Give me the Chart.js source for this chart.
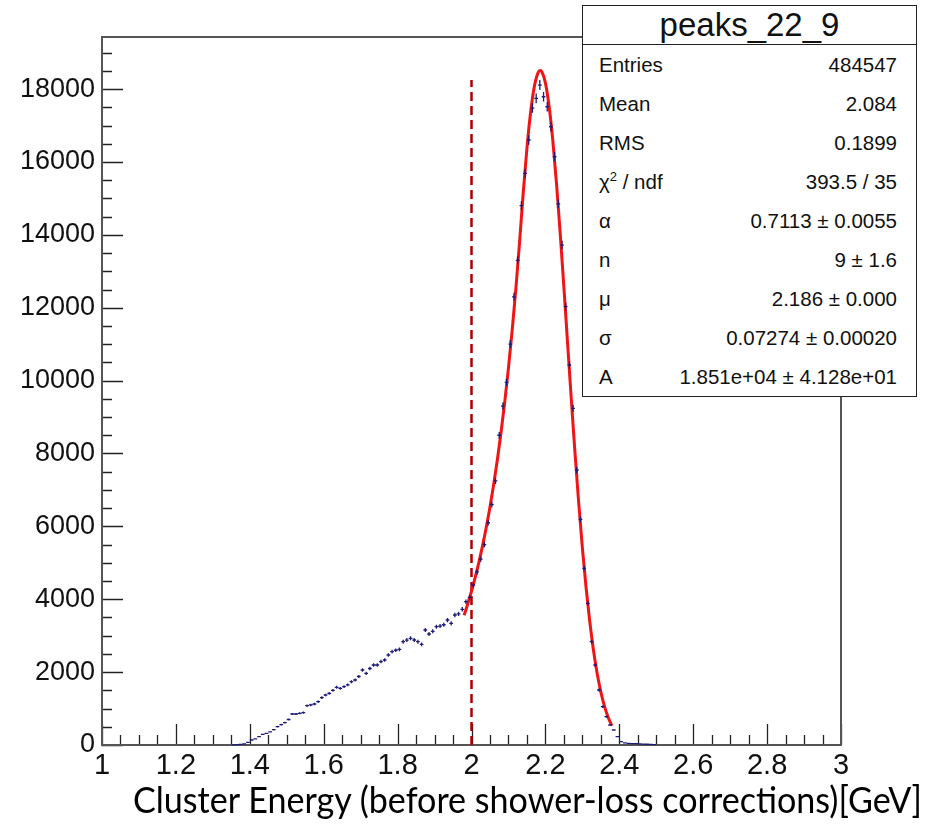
<!DOCTYPE html>
<html><head><meta charset="utf-8">
<script src="https://cdn.jsdelivr.net/npm/chart.js@4"></script>
<style>
html,body{margin:0;padding:0;background:#fff;}
#wrap{position:relative;width:929px;height:828px;overflow:hidden;background:#fff;}
#c{position:absolute;left:0;top:0;}
#stats{position:absolute;left:582px;top:5px;width:335px;border:1.5px solid #222;background:#fff;font-family:"Liberation Sans",Arial,sans-serif;color:#111;box-sizing:border-box;}
#stats .t{height:38px;border-bottom:1.5px solid #222;text-align:center;font-size:33px;line-height:38px;}
#stats .r{display:flex;justify-content:space-between;padding:0 19px 0 16px;font-size:20.5px;height:39px;line-height:39px;}
#xt{position:absolute;top:780px;left:133px;font-family:Lato,"Open Sans",sans-serif;font-size:37px;line-height:38px;white-space:nowrap;transform-origin:left top;color:#000;}
</style>
</head><body>
<div id="wrap">
<canvas id="c" width="929" height="828"></canvas>
<div id="stats"></div>
<div id="xt">Cluster Energy (before shower-loss corrections)[GeV]</div>
</div>
<script>
// histogram bin centers (GeV) and counts
const binCenters = [
1.355,1.365,1.375,1.385,1.395,1.405,1.415,1.425,1.435,1.445,
1.455,1.465,1.475,1.485,1.495,1.505,1.515,1.525,1.535,1.545,
1.555,1.565,1.575,1.585,1.595,1.605,1.615,1.625,1.635,1.645,
1.655,1.665,1.675,1.685,1.695,1.705,1.715,1.725,1.735,1.745,
1.755,1.765,1.775,1.785,1.795,1.805,1.815,1.825,1.835,1.845,
1.855,1.865,1.875,1.885,1.895,1.905,1.915,1.925,1.935,1.945,
1.955,1.965,1.975,1.985,1.995,2.005,2.015,2.025,2.035,2.045,
2.055,2.065,2.075,2.085,2.095,2.105,2.115,2.125,2.135,2.145,
2.155,2.165,2.175,2.185,2.195,2.205,2.215,2.225,2.235,2.245,
2.255,2.265,2.275,2.285,2.295,2.305,2.315,2.325,2.335,2.345,
2.355,2.365,2.375,2.385,2.395,2.405,2.415,2.425,2.435,2.445,
2.455,2.465,2.475,2.485,2.495];
const binCounts = [
5,10,15,30,74,137,170,230,290,320,
360,420,503,560,613,700,851,851,870,887,
1079,1100,1125,1189,1300,1372,1418,1500,1583,1555,
1601,1650,1738,1784,1880,2058,1967,2100,2195,2195,
2290,2333,2470,2560,2600,2626,2835,2880,2928,2881,
2835,2760,3156,3046,3120,3246,3265,3300,3430,3339,
3567,3600,3724,3933,4050,4391,4750,5100,5500,6100,
6600,7250,8500,9300,9950,11000,12300,13300,14800,15689,
16603,17480,17747,18112,17790,17516,16967,16144,14850,13721,
12028,10428,9240,7547,6194,4849,3889,2835,2195,1509,
1051,777,549,412,228,91,60,47,40,35,
30,25,20,15,10];
const binWidth = 0.01;

// fitted curve
const fitX = [1.98,1.99,2.00,2.01,2.02,2.03,2.04,2.05,2.06,2.07,2.08,2.09,2.10,2.11,2.12,2.13,2.14,2.15,2.16,2.17,2.18,2.186,
2.19,2.20,2.21,2.22,2.23,2.24,2.25,2.26,2.27,2.28,2.29,2.30,2.31,2.32,2.33,2.34,2.35,2.36,2.37,2.38];
const fitY = [3563,3876,4220,4597,5013,5470,5975,6532,7148,7829,8582,9416,10343,11371,12513,13785,15155,16376,17364,18068,18447,18510,
18482,18171,17529,16594,15415,14051,12570,11032,9503,8031,6662,5420,4329,3393,2608,1969,1457,1059,755,528];

// dashed cut line
const cutX = [2.0, 2.0];
const cutY = [0, 18250];

// axis ranges and tick labels
const xMin = 1, xMax = 3, yMin = 0, yMax = 19430;
const xTicks = [1, 1.2, 1.4, 1.6, 1.8, 2, 2.2, 2.4, 2.6, 2.8, 3];
const xTickLabels = ["1","1.2","1.4","1.6","1.8","2","2.2","2.4","2.6","2.8","3"];
const yTicks = [0, 2000, 4000, 6000, 8000, 10000, 12000, 14000, 16000, 18000];
const yTickLabels = ["0","2000","4000","6000","8000","10000","12000","14000","16000","18000"];

// stats box
const statTitle = "peaks_22_9";
const statLabels = ["Entries","Mean","RMS","χ<sup style='font-size:13px;line-height:0'>2</sup> / ndf","α","n","μ","σ","A"];
const statValues = ["484547","2.084","0.1899","393.5 / 35","0.7113 ± 0.0055","9 ± 1.6","2.186 ± 0.000","0.07274 ± 0.00020","1.851e+04 ± 4.128e+01"];

const st = document.getElementById('stats');
let html = `<div class="t">${statTitle}</div>`;
statLabels.forEach((l,i)=>{ html += `<div class="r"><span>${l}</span><span>${statValues[i]}</span></div>`; });
st.innerHTML = html;

const xt = document.getElementById('xt');
const w = xt.getBoundingClientRect().width;
xt.style.transform = `scaleX(${789 / w})`;

const framePlugin = {
  id:'frame',
  beforeDatasetsDraw(chart){
    const {ctx, chartArea:a, scales:{x,y}} = chart;
    ctx.save();
    ctx.strokeStyle = '#222'; ctx.lineWidth = 1.3;
    ctx.beginPath();
    for (let k=0;k<=40;k++){
      const v = xMin + k*0.05;
      const px = Math.round(x.getPixelForValue(v))+0.5;
      const len = (k%4===0) ? 21 : 10;
      ctx.moveTo(px, a.bottom); ctx.lineTo(px, a.bottom-len);
    }
    for (let k=0;k*500<=yMax;k++){
      const py = Math.round(y.getPixelForValue(k*500))+0.5;
      const len = (k%4===0) ? 21 : 10;
      ctx.moveTo(a.left, py); ctx.lineTo(a.left+len, py);
    }
    ctx.stroke();
    ctx.strokeStyle = '#555'; ctx.lineWidth = 2;
    ctx.strokeRect(a.left, a.top, a.right-a.left, a.bottom-a.top);
    ctx.restore();
  },
  afterDatasetsDraw(chart){
    const {ctx, scales:{x,y}} = chart;
    ctx.save();
    ctx.strokeStyle = '#1b1b78'; ctx.lineWidth = 1.3;
    ctx.beginPath();
    binCenters.forEach((c,i)=>{
      const v = binCounts[i], e = Math.sqrt(v);
      const px = x.getPixelForValue(c), x0 = x.getPixelForValue(c-binWidth/2), x1 = x.getPixelForValue(c+binWidth/2);
      const py = y.getPixelForValue(v), y0 = y.getPixelForValue(v-e), y1 = y.getPixelForValue(v+e);
      ctx.moveTo(x0,py); ctx.lineTo(x1,py);
      ctx.moveTo(px,y0); ctx.lineTo(px,y1);
    });
    ctx.stroke();
    ctx.restore();
  }
};

new Chart(document.getElementById('c'), {
  type:'scatter',
  data:{datasets:[
    {label:'hist', data:binCenters.map((c,i)=>({x:c,y:binCounts[i]})), pointRadius:0, showLine:false, order:1},
    {label:'fit', data:fitX.map((v,i)=>({x:v,y:fitY[i]})), showLine:true, borderColor:'#f01515', borderWidth:3, pointRadius:0, cubicInterpolationMode:'monotone', fill:false, order:2},
    {label:'cut', data:cutX.map((v,i)=>({x:v,y:cutY[i]})), showLine:true, borderColor:'#b00000', borderWidth:2.5, borderDash:[9,5], pointRadius:0, fill:false, order:3}
  ]},
  options:{
    responsive:false, animation:false, devicePixelRatio:1,
    layout:{padding:{top:37,right:88,left:0,bottom:0}},
    plugins:{legend:{display:false}, tooltip:{enabled:false}},
    scales:{
      x:{type:'linear', min:xMin, max:xMax,
        grid:{display:false, drawTicks:false}, border:{display:false},
        afterBuildTicks(s){ s.ticks = xTicks.map(v=>({value:v})); },
        afterFit(s){ s.height = 83; },
        ticks:{autoSkip:false, maxRotation:0, padding:4, color:'#111',
          font:{family:'"Liberation Sans",Arial,sans-serif', size:29},
          callback:(v,i)=> xTickLabels[i]}
      },
      y:{type:'linear', min:yMin, max:yMax,
        grid:{display:false, drawTicks:false}, border:{display:false},
        afterBuildTicks(s){ s.ticks = yTicks.map(v=>({value:v})); },
        afterFit(s){ s.width = 102; },
        ticks:{autoSkip:false, padding:7, color:'#111',
          font:{family:'"Liberation Sans",Arial,sans-serif', size:27},
          callback:(v,i)=> yTickLabels[i]}
      }
    }
  },
  plugins:[framePlugin]
});
</script>
</body></html>
